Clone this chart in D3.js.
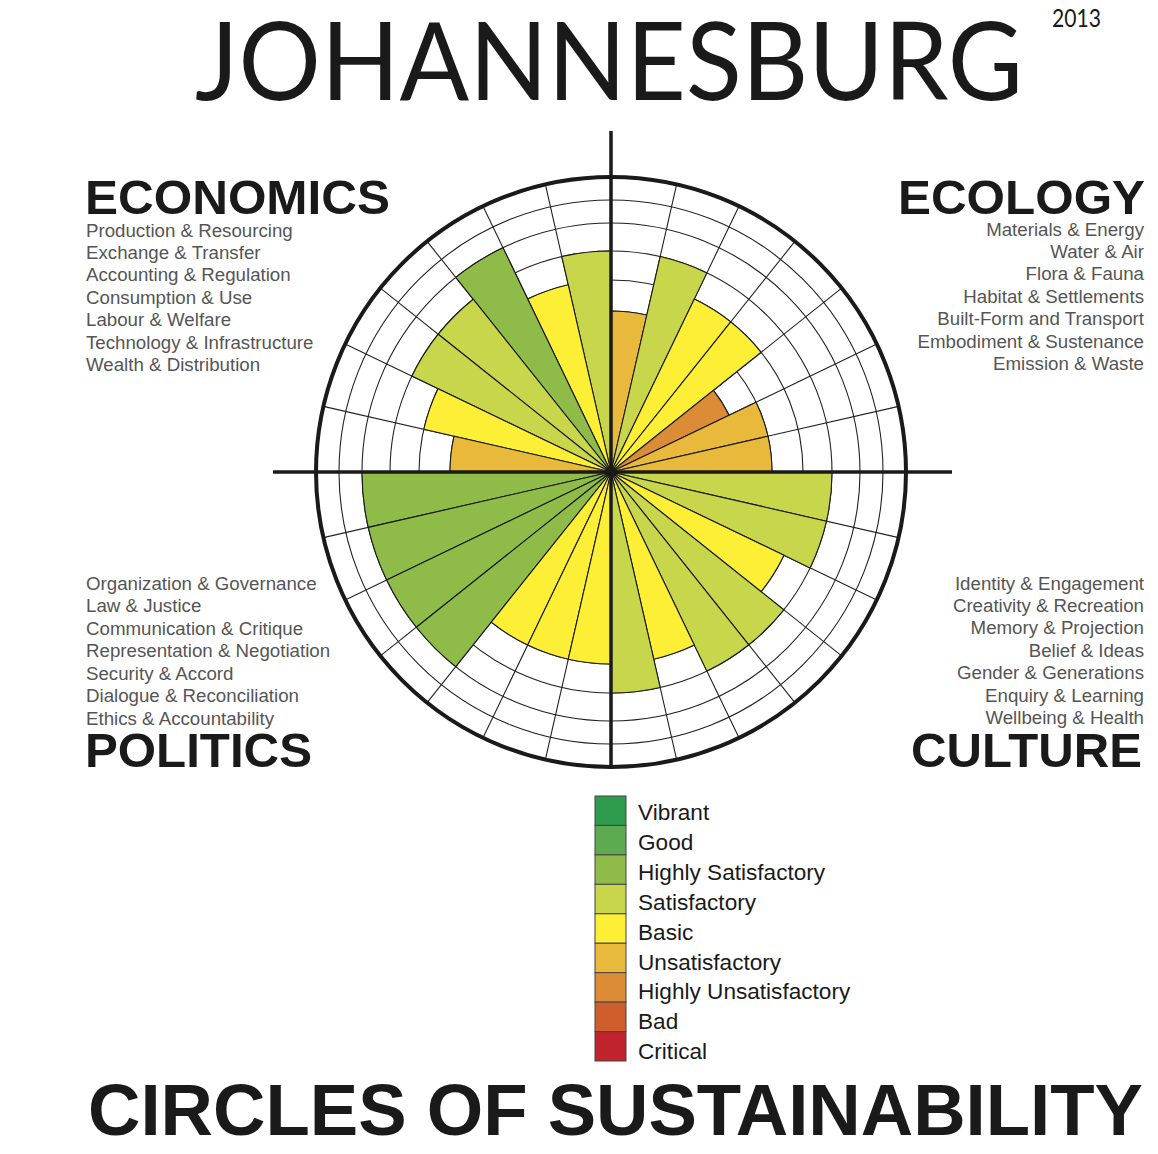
<!DOCTYPE html>
<html><head><meta charset="utf-8">
<script src="https://cdn.jsdelivr.net/npm/d3@7"></script>
<style>body{margin:0;background:#fff}svg{display:block}</style>
</head><body>
<svg id="chart" width="1158" height="1154"></svg>
<script>
// ---- data ----
const levels = ["Critical","Bad","Highly Unsatisfactory","Unsatisfactory","Basic","Satisfactory","Highly Satisfactory","Good","Vibrant"];
const levelColors = ["#c0232d","#cd5f2d","#dc8c37","#e8b93a","#fdee36","#c7d64b","#8fbc48","#5eaa50","#2f9b4f"];

const ecologyNames = ["Materials & Energy","Water & Air","Flora & Fauna","Habitat & Settlements","Built-Form and Transport","Embodiment & Sustenance","Emission & Waste"];
const ecologyScores = [4,6,5,5,3,4,4];
const cultureNames = ["Identity & Engagement","Creativity & Recreation","Memory & Projection","Belief & Ideas","Gender & Generations","Enquiry & Learning","Wellbeing & Health"];
const cultureScores = [6,6,5,6,6,5,6];
const politicsNames = ["Organization & Governance","Law & Justice","Communication & Critique","Representation & Negotiation","Security & Accord","Dialogue & Reconciliation","Ethics & Accountability"];
const politicsScores = [7,7,7,7,5,5,5];
const economicsNames = ["Production & Resourcing","Exchange & Transfer","Accounting & Regulation","Consumption & Use","Labour & Welfare","Technology & Infrastructure","Wealth & Distribution"];
const economicsScores = [6,5,7,6,6,5,4];

const titleText = "JOHANNESBURG";
const yearText = "2013";
const footerText = "CIRCLES OF SUSTAINABILITY";

// ---- layout ----
const svg = d3.select("#chart");
const cx = 611, cy = 472;
const sans = "'Liberation Sans', Arial, Helvetica, sans-serif";

// level -> ring radius
const ringRadius = d3.scaleLinear()
  .domain([0,3,4,5,6,7,8,9])
  .range([0,131,161,192,221,249,272,295]);
const R = ringRadius(9);
const slotAngle = d3.scaleLinear().domain([0,28]).range([0, 2*Math.PI]);

// segments: ecology & culture clockwise, politics & economics counter-clockwise
const segments = [];
ecologyNames.forEach((n,i)=>segments.push({domain:"Ecology",name:n,score:ecologyScores[i],slot:i}));
cultureNames.forEach((n,i)=>segments.push({domain:"Culture",name:n,score:cultureScores[i],slot:7+i}));
politicsNames.forEach((n,i)=>segments.push({domain:"Politics",name:n,score:politicsScores[i],slot:20-i}));
economicsNames.forEach((n,i)=>segments.push({domain:"Economics",name:n,score:economicsScores[i],slot:27-i}));

const g = svg.append("g").attr("transform",`translate(${cx},${cy})`);

// white background
g.append("circle").attr("r",R).attr("fill","#fff");

// grid rings
g.selectAll("circle.ring").data(d3.range(1,9)).join("circle")
  .attr("class","ring").attr("r",d=>ringRadius(d))
  .attr("fill","none").attr("stroke","#222").attr("stroke-width",1.1);

// radial lines
g.selectAll("line.radial").data(d3.range(28)).join("line")
  .attr("class","radial")
  .attr("x1",0).attr("y1",0)
  .attr("x2",d=>R*Math.sin(slotAngle(d)))
  .attr("y2",d=>-R*Math.cos(slotAngle(d)))
  .attr("stroke","#222").attr("stroke-width",1.1);

// bars
const arc = d3.arc()
  .innerRadius(0)
  .outerRadius(d=>ringRadius(d.score))
  .startAngle(d=>slotAngle(d.slot))
  .endAngle(d=>slotAngle(d.slot+1));
g.selectAll("path.bar").data(segments).join("path")
  .attr("class","bar").attr("d",arc)
  .attr("fill",d=>levelColors[d.score-1])
  .attr("stroke","#1a1a1a").attr("stroke-width",1.1).attr("stroke-linejoin","round");

// outer circle
g.append("circle").attr("r",R).attr("fill","none").attr("stroke","#1a1a1a").attr("stroke-width",4);

// axes
g.append("line").attr("x1",0).attr("x2",0).attr("y1",-R-46).attr("y2",R)
  .attr("stroke","#1a1a1a").attr("stroke-width",3.5);
g.append("line").attr("y1",0).attr("y2",0).attr("x1",-R-43).attr("x2",R+46)
  .attr("stroke","#1a1a1a").attr("stroke-width",3.5);

// ---- titles ----
svg.append("text").attr("x",195).attr("y",100).text(titleText)
  .attr("font-family","Lato, 'Open Sans', 'Liberation Sans', sans-serif").attr("font-weight",400)
  .attr("font-size",108).attr("fill","#1a1a1a")
  .attr("textLength",828).attr("lengthAdjust","spacingAndGlyphs");
svg.append("text").attr("x",1052).attr("y",27).text(yearText)
  .attr("font-family","Lato, 'Open Sans', 'Liberation Sans', sans-serif")
  .attr("font-size",25).attr("fill","#1a1a1a")
  .attr("textLength",49).attr("lengthAdjust","spacingAndGlyphs");

svg.append("text").attr("x",88).attr("y",1135).text(footerText)
  .attr("font-family",sans).attr("font-weight",700).attr("font-size",73).attr("fill","#1a1a1a")
  .attr("textLength",1055).attr("lengthAdjust","spacingAndGlyphs");

// domain headers
const headers = [
  {t:"ECONOMICS",x:85,y:214,anchor:"start",w:305},
  {t:"ECOLOGY",x:1145,y:214,anchor:"end",w:247},
  {t:"POLITICS",x:85,y:767,anchor:"start",w:227},
  {t:"CULTURE",x:1142,y:767,anchor:"end",w:231}
];
svg.selectAll("text.hdr").data(headers).join("text").attr("class","hdr")
  .attr("x",d=>d.x).attr("y",d=>d.y).attr("text-anchor",d=>d.anchor)
  .attr("font-family",sans).attr("font-weight",700).attr("font-size",49).attr("fill","#1a1a1a")
  .attr("textLength",d=>d.w).attr("lengthAdjust","spacingAndGlyphs")
  .text(d=>d.t);

// subdomain lists
function list(names, x, y0, anchor){
  svg.append("g").selectAll("text").data(names).join("text")
    .attr("x",x).attr("y",(d,i)=>y0+i*22.45).attr("text-anchor",anchor)
    .attr("font-family",sans).attr("font-size",18.7).attr("fill","#555")
    .text(d=>d);
}
list(economicsNames, 86, 236.5, "start");
list(ecologyNames, 1144, 235.5, "end");
list(politicsNames, 86, 590, "start");
list(cultureNames, 1144, 589.5, "end");

// ---- legend ----
const legendOrder = levels.map((l,i)=>({label:l,color:levelColors[i]})).reverse();
const ySw = d3.scaleBand().domain(legendOrder.map(d=>d.label)).range([796,1061]);
const yLab = d3.scalePoint().domain(legendOrder.map(d=>d.label)).range([812,1051]);
const lg = svg.append("g");
lg.selectAll("rect").data(legendOrder).join("rect")
  .attr("x",595).attr("y",d=>ySw(d.label)).attr("width",31).attr("height",ySw.bandwidth())
  .attr("fill",d=>d.color).attr("stroke","#444").attr("stroke-width",1);
lg.selectAll("text").data(legendOrder).join("text")
  .attr("x",638).attr("y",d=>yLab(d.label)).attr("dy","0.36em")
  .attr("font-family",sans).attr("font-size",22.6).attr("fill","#1a1a1a")
  .text(d=>d.label);
</script>
</body></html>
